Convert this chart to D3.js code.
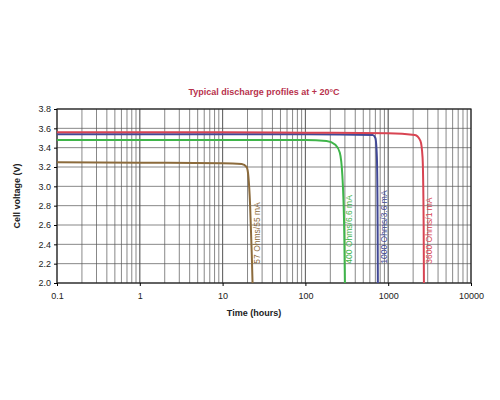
<!DOCTYPE html>
<html><head><meta charset="utf-8">
<script src="https://cdn.jsdelivr.net/npm/d3@7"></script>
<style>body{margin:0;background:#fff}text{font-family:"Liberation Sans",Arial,sans-serif}</style>
</head><body><svg id="c" width="500" height="400"></svg>
<script>
var xTicks = [0.1, 1, 10, 100, 1000, 10000]
var yTicks = [2.0, 2.2, 2.4, 2.6, 2.8, 3.0, 3.2, 3.4, 3.6, 3.8]
var brownT = [0.1, 1, 10, 17, 19.5, 20.5, 21.5, 22.5, 23]
var brownV = [3.25, 3.245, 3.24, 3.23, 3.2, 3.1, 2.8, 2.3, 2.0]
var greenT = [0.1, 10, 100, 180, 230, 260, 280, 295, 300]
var greenV = [3.48, 3.48, 3.48, 3.47, 3.43, 3.35, 3.1, 2.5, 2.0]
var blueT = [0.1, 10, 100, 650, 700, 730, 745, 750]
var blueV = [3.54, 3.54, 3.54, 3.53, 3.5, 3.3, 2.6, 2.0]
var redT = [0.1, 10, 100, 1000, 2100, 2450, 2600, 2680, 2700]
var redV = [3.56, 3.56, 3.555, 3.55, 3.53, 3.47, 3.3, 2.6, 2.0]
var series = [
  {t: brownT, v: brownV, c: '#8c6b3c', label: '57 Ohms/55 mA', lx: 26},
  {t: greenT, v: greenV, c: '#3fb54a', label: '400 Ohms/6.6 mA', lx: 340},
  {t: blueT, v: blueV, c: '#404896', label: '1000 Ohms/3.6 mA', lx: 880},
  {t: redT, v: redV, c: '#d84452', label: '3600 Ohms/1 mA', lx: 3100}
]
var svg = d3.select('#c')
var margin = {top: 109, left: 57, right: 29, bottom: 117}
var width = 500 - margin.left - margin.right, height = 400 - margin.top - margin.bottom
var x = d3.scaleLog().domain([0.1, 10000]).range([0, width])
var y = d3.scaleLinear().domain([2.0, 3.8]).range([height, 0])
var g = svg.append('g').attr('transform', 'translate(' + margin.left + ',' + margin.top + ')')

var minor = []
for (var d = 0.1; d < 10000; d *= 10) for (var k = 1; k <= 10; k++) minor.push(d * k)
g.selectAll('.vx').data(minor).enter().append('line')
  .attr('x1', function (d) { return x(d) }).attr('x2', function (d) { return x(d) })
  .attr('y1', 0).attr('y2', height).attr('stroke', '#555').attr('stroke-width', 0.7)
g.selectAll('.hy').data(yTicks).enter().append('line')
  .attr('x1', 0).attr('x2', width)
  .attr('y1', function (d) { return y(d) }).attr('y2', function (d) { return y(d) })
  .attr('stroke', '#555').attr('stroke-width', 0.7)
g.append('rect').attr('width', width).attr('height', height).attr('fill', 'none').attr('stroke', '#222').attr('stroke-width', 1.2)

g.append('g').attr('transform', 'translate(0,' + height + ')')
  .call(d3.axisBottom(x).tickValues(xTicks).tickFormat(function (d) { return String(d) }).tickSize(3))
  .call(function (a) { a.select('.domain').remove(); a.selectAll('text').attr('font-size', 9).attr('fill', '#222').attr('dy', '1.1em') })
g.append('g')
  .call(d3.axisLeft(y).tickValues(yTicks).tickFormat(d3.format('.1f')).tickSize(3))
  .call(function (a) { a.select('.domain').remove(); a.selectAll('text').attr('font-size', 9).attr('fill', '#222') })

var line = d3.line().x(function (d) { return x(d[0]) }).y(function (d) { return y(d[1]) }).curve(d3.curveMonotoneX)
series.forEach(function (s) {
  var pts = s.t.map(function (t, i) { return [t, s.v[i]] })
  g.append('path').attr('d', line(pts)).attr('fill', 'none').attr('stroke', s.c).attr('stroke-width', 2)
  g.append('text').attr('transform', 'translate(' + (x(s.lx) + 3) + ',' + y(2.2) + ') rotate(-90)')
    .attr('font-size', 8.5).attr('fill', s.c).text(s.label)
})

svg.append('text').attr('x', margin.left + width / 2).attr('y', 95).attr('text-anchor', 'middle')
  .attr('font-size', 9).attr('font-weight', 'bold').attr('fill', '#b8324c').text('Typical discharge profiles at + 20°C')
svg.append('text').attr('x', margin.left + width / 2 - 10).attr('y', 316).attr('text-anchor', 'middle')
  .attr('font-size', 9).attr('font-weight', 'bold').attr('fill', '#222').text('Time (hours)')
svg.append('text').attr('transform', 'translate(20,' + (margin.top + height / 2) + ') rotate(-90)').attr('text-anchor', 'middle')
  .attr('font-size', 9).attr('font-weight', 'bold').attr('fill', '#222').text('Cell voltage (V)')
</script></body></html>
